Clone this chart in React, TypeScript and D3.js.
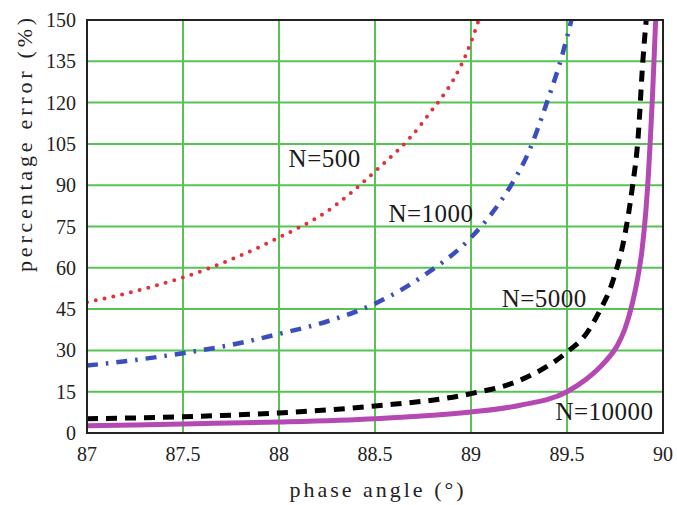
import React from "react";
import * as d3 from "d3";

const xTicks = [87, 87.5, 88, 88.5, 89, 89.5, 90];
const yTicks = [0, 15, 30, 45, 60, 75, 90, 105, 120, 135, 150];

const x500 = [87, 87.25, 87.5, 87.75, 88, 88.25, 88.5, 88.75, 89, 89.05];
const y500 = [47.5, 51.5, 56.5, 63, 71, 80.5, 95, 113, 142, 152];

const x1000 = [87, 87.25, 87.5, 87.75, 88, 88.25, 88.5, 88.75, 89, 89.1, 89.2, 89.3, 89.4, 89.47, 89.53];
const y1000 = [24.5, 26.5, 29, 32, 36, 40.5, 47, 57, 71, 79, 89, 102, 121, 136, 152];

const x5000 = [87, 87.5, 88, 88.5, 89, 89.25, 89.5, 89.6, 89.66, 89.74, 89.8, 89.84, 89.87, 89.895, 89.91, 89.92];
const y5000 = [5.2, 5.9, 7.3, 9.8, 14.3, 19, 29.4, 36, 43, 55.5, 71.5, 89, 107, 135, 148, 155];

const x10000 = [87, 87.5, 88, 88.5, 89, 89.25, 89.5, 89.6, 89.7, 89.76, 89.8, 89.84, 89.87, 89.89, 89.91, 89.925, 89.935, 89.945, 89.953, 89.96, 89.968];
const y10000 = [2.6, 3.3, 4, 5.2, 7.6, 10, 15, 19.5, 26, 31.5, 37.5, 47, 57, 66, 80, 95, 108, 122, 135, 147, 158];

const labels = [
  { text: "N=500", x: 88.05, y: 96.6 },
  { text: "N=1000", x: 88.57, y: 76.6 },
  { text: "N=5000", x: 89.16, y: 45.8 },
  { text: "N=10000", x: 89.44, y: 4.7 },
];

const W = 677;
const H = 505;
const L = 87, R = 663, T = 20, B = 433;

export default function App() {
  const x = d3.scaleLinear().domain([87, 90]).range([L, R]);
  const y = d3.scaleLinear().domain([0, 150]).range([B, T]);
  const line = d3
    .line<[number, number]>()
    .x((d) => x(d[0]))
    .y((d) => y(d[1]))
    .curve(d3.curveMonotoneX);
  const pts = (xs: number[], ys: number[]) => xs.map((v, i) => [v, ys[i]] as [number, number]);

  const serif = "Liberation Serif, serif";

  return (
    <svg width={W} height={H} style={{ position: "absolute", left: 0, top: 0, background: "#fff" }}>
      <defs>
        <clipPath id="plot">
          <rect x={L} y={T} width={R - L} height={B - T} />
        </clipPath>
      </defs>
      <rect x={0} y={0} width={W} height={H} fill="#fff" />
      {xTicks.slice(1, -1).map((t) => (
        <line key={"gx" + t} x1={x(t)} x2={x(t)} y1={T} y2={B} stroke="#55c455" strokeWidth={2} />
      ))}
      {yTicks.slice(1, -1).map((t) => (
        <line key={"gy" + t} x1={L} x2={R} y1={y(t)} y2={y(t)} stroke="#55c455" strokeWidth={2} />
      ))}
      <g clipPath="url(#plot)" fill="none">
        <path d={line(pts(x500, y500)) || ""} stroke="#e3303a" strokeWidth={4} strokeDasharray="0 9" strokeLinecap="round" />
        <path d={line(pts(x1000, y1000)) || ""} stroke="#3a4fbd" strokeWidth={4.5} strokeDasharray="11 8 2.5 8" />
        <path d={line(pts(x5000, y5000)) || ""} stroke="#000" strokeWidth={5} strokeDasharray="11 8" />
        <path d={line(pts(x10000, y10000)) || ""} stroke="#b449b4" strokeWidth={5} />
      </g>
      <rect x={L} y={T} width={R - L} height={B - T} fill="none" stroke="#222" strokeWidth={2} />
      {labels.map((lb) => (
        <text key={lb.text} x={x(lb.x)} y={y(lb.y)} fontFamily={serif} fontSize={25} fill="#1a1a1a" letterSpacing={0.5}>
          {lb.text}
        </text>
      ))}
      {yTicks.map((t) => (
        <text key={"yt" + t} x={76} y={y(t)} dy="0.35em" textAnchor="end" fontFamily={serif} fontSize={20} fill="#222">
          {t}
        </text>
      ))}
      {xTicks.map((t) => (
        <text key={"xt" + t} x={x(t)} y={461} textAnchor="middle" fontFamily={serif} fontSize={20} fill="#222">
          {t}
        </text>
      ))}
      <text x={378} y={497} textAnchor="middle" fontFamily={serif} fontSize={22} letterSpacing={3} fill="#222">
        phase angle (°)
      </text>
      <text
        transform={`translate(32,143) rotate(-90)`}
        textAnchor="middle"
        fontFamily={serif}
        fontSize={22}
        letterSpacing={3.8}
        fill="#222"
      >
        percentage error (%)
      </text>
    </svg>
  );
}
